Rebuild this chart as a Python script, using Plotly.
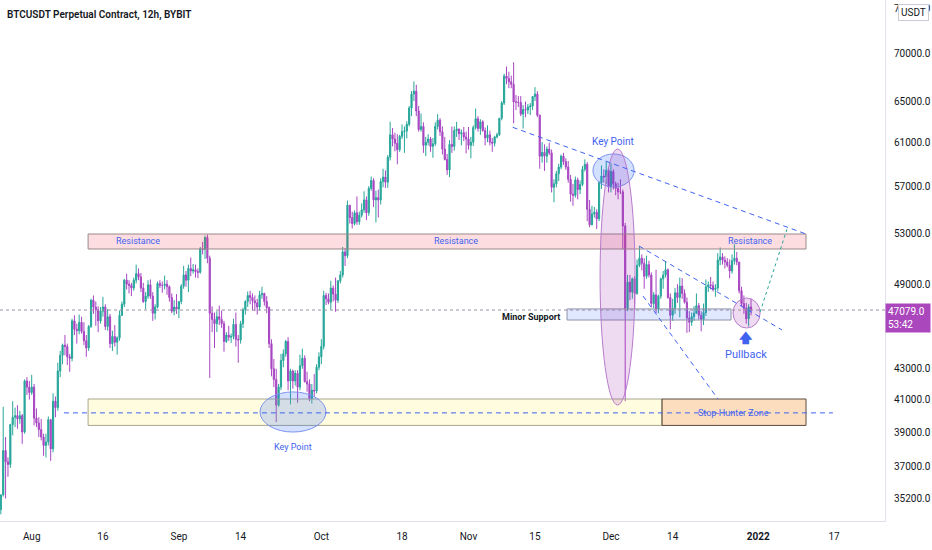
import math
import pandas as pd
import plotly.graph_objects as go

# -------------------------------------------------
# BTCUSDT PERP 12h candles
# first bar = 2021-07-25 12:00, two bars per day
# -------------------------------------------------
first_open = 34600

jul_high = [35400, 40550, 38700, 37500, 39500, 40900, 40500, 40650, 40300, 40100, 42300, 42450, 42200]
jul_low = [34350, 35300, 35200, 36400, 36900, 38800, 39300, 39200, 39500, 38300, 38900, 41300, 41000]
jul_close = [35400, 37900, 37250, 37100, 39450, 39900, 40000, 39800, 40000, 39000, 42200, 41800, 41450]

aug_high = [42600, 42000, 40450, 39900, 39800, 38900, 38900, 39950, 39800, 41400, 41200, 43400,
            44200, 44700, 45300, 44700, 44000, 46450, 46700, 46100, 46750, 46600, 46200, 45300,
            46000, 47900, 48150, 47700, 47350, 47300, 48050, 47500, 47150, 46800, 45600, 46000,
            45200, 47050, 47700, 49400, 49800, 49300, 49100, 49500, 50500, 50200, 49850, 49100,
            48400, 49300, 49350, 48400, 47500, 49200, 49300, 49200, 49650, 49300, 48900, 48300,
            47800, 48250]
aug_low = [41300, 39400, 39300, 38700, 38500, 37600, 37500, 38200, 37300, 37800, 39900, 40300,
           42450, 43300, 43900, 43250, 42800, 43500, 45300, 44700, 45350, 45400, 44600, 43800,
           44200, 45800, 46800, 45950, 45500, 46100, 46600, 45650, 45600, 44400, 44200, 44500,
           43950, 44900, 46650, 47300, 48600, 48300, 48100, 48500, 49050, 49300, 48400, 47600,
           47150, 47900, 47900, 46300, 46400, 47200, 48700, 48350, 48600, 48200, 47700, 46850,
           46700, 46800]
aug_close = [41800, 39850, 39550, 39150, 38700, 38200, 38400, 39750, 38000, 40900, 40500, 42850,
             43900, 44600, 44500, 43800, 43700, 46300, 45700, 45600, 46200, 45550, 44900, 44400,
             45900, 47800, 47300, 47100, 46300, 47000, 47300, 45900, 46600, 44700, 45200, 44800,
             45100, 46700, 47500, 49300, 49000, 48900, 48700, 49300, 49800, 49550, 48700, 47700,
             48100, 48950, 48100, 46850, 47300, 49050, 48900, 48900, 49000, 48800, 48000, 47000,
             47300, 47150]

sep_high = [47700, 49000, 50400, 50000, 50500, 51050, 50550, 50500, 50200, 51900, 52300, 52800,
            52900, 51200, 47350, 46900, 47000, 47400, 47050, 46300, 45500, 45950, 45400, 46450,
            46900, 45300, 46300, 47250, 47800, 48450, 48500, 48300, 48150, 47900, 48500, 48800,
            48350, 48100, 47350, 45000, 43650, 43000, 42000, 44000, 44300, 44950, 45150, 43000,
            42950, 42900, 42900, 43950, 44350, 43900, 42800, 42300, 42000, 42650, 43300, 44100]
sep_low = [46500, 47500, 48650, 48800, 48400, 49600, 49800, 49500, 49450, 49800, 51300, 50950,
           50600, 42400, 45500, 44400, 45500, 46000, 45800, 44150, 44750, 44900, 44750, 45000,
           44500, 43400, 44700, 45800, 46750, 47300, 47500, 47050, 47000, 46750, 47050, 47900,
           47400, 46850, 44400, 42500, 41800, 39600, 40550, 41600, 43100, 43800, 41600, 40700,
           41700, 41900, 40800, 41600, 43000, 42100, 41500, 40900, 40750, 41200, 41400, 42900]
sep_close = [47700, 48850, 49700, 49300, 50200, 50000, 50100, 49950, 49900, 51750, 51700, 52650,
             51000, 46850, 46400, 46100, 46600, 46400, 46100, 44850, 45300, 45150, 45200, 46050,
             45000, 44950, 46100, 47100, 47700, 48150, 48000, 47750, 47600, 47300, 48200, 48300,
             47700, 47250, 44700, 43000, 42300, 40650, 41800, 43550, 44000, 44850, 42200, 42850,
             42200, 42700, 41800, 43200, 43700, 42150, 42000, 41050, 41600, 41550, 43100, 43800]

oct_high = [45000, 48500, 48350, 48300, 49250, 48900, 49500, 49300, 50000, 51900, 51800, 55750,
            55350, 54800, 54900, 56100, 54800, 55500, 56550, 56100, 57000, 57850, 57700, 56600,
            56700, 57700, 58550, 58400, 59800, 62950, 62350, 61900, 61750, 61700, 62700, 62500,
            63000, 64500, 66000, 67000, 66650, 64500, 63750, 62900, 61500, 61750, 61500, 61400,
            62900, 63700, 63300, 62500, 61500, 59900, 61200, 62500, 62500, 62950, 62300, 62200,
            62450, 62000]
oct_low = [43300, 44300, 47450, 47500, 47100, 47700, 46950, 47600, 49050, 49500, 50400, 51000,
           53800, 53400, 53650, 53700, 53700, 54300, 54700, 54100, 54450, 56600, 55200, 53900,
           54300, 55400, 56900, 56850, 56850, 59300, 60600, 60150, 58950, 60100, 61300, 60000,
           61350, 62500, 63500, 65000, 63500, 62000, 62000, 60000, 59700, 60700, 60100, 59550,
           60650, 62200, 61600, 59850, 59300, 58000, 57800, 60000, 60200, 61500, 61200, 60700,
           61100, 59950]
oct_close = [44500, 48150, 47900, 47650, 48700, 48250, 47800, 49250, 49700, 51500, 51200, 55350,
             54300, 53800, 54700, 53950, 54500, 54950, 55800, 54700, 56800, 57500, 55800, 56000,
             55800, 57400, 57800, 57350, 59600, 61700, 61300, 60900, 60300, 61550, 62000, 62050,
             62700, 64300, 65700, 66000, 64000, 62200, 62500, 60700, 61000, 61300, 60600, 60850,
             62500, 63100, 62000, 60350, 59400, 58450, 60800, 60600, 62100, 62250, 61800, 61900,
             61500, 61300]

nov_high = [62450, 61500, 62600, 64250, 63500, 63200, 63100, 62400, 62600, 62100, 61400, 61600,
            61900, 63300, 65000, 67800, 68550, 68000, 67600, 69000, 65600, 65500, 65500, 64600,
            64950, 64700, 64800, 65500, 66400, 66000, 63650, 61000, 60800, 60600, 60950, 60300,
            57600, 58350, 59000, 59850, 60000, 59500, 59250, 58000, 57200, 57850, 57750, 57500,
            58800, 59400, 59150, 55800, 55300, 55200, 55000, 57450, 58850, 58500, 59200, 58600]
nov_low = [60300, 59500, 60650, 62200, 62000, 61700, 62000, 60700, 61000, 60700, 60100, 60600,
           61350, 61600, 63100, 64600, 66700, 66300, 66300, 62800, 64100, 64400, 63500, 62300,
           63400, 63700, 63600, 64100, 65000, 63400, 58550, 59100, 58350, 59100, 59800, 56450,
           55600, 56900, 57450, 58500, 58900, 58450, 57300, 55650, 55300, 56000, 55850, 56300,
           57000, 58300, 54000, 53500, 53650, 54300, 53350, 54000, 56750, 57300, 57200, 56450]
nov_close = [60700, 61000, 62400, 63250, 62300, 62950, 62100, 61400, 61700, 61000, 60900, 61500,
             61700, 63300, 64800, 67550, 67300, 66950, 66700, 64900, 64900, 64850, 63700, 64150,
             64100, 64400, 64500, 65450, 65700, 63600, 59700, 60050, 59700, 60350, 60000, 56900,
             57200, 58100, 58700, 59700, 59200, 58700, 57600, 56300, 56200, 57550, 56700, 57150,
             58500, 58950, 55000, 53700, 54600, 54750, 54200, 57300, 57900, 57800, 58400, 56950]

dec_high = [59050, 58500, 57400, 57300, 57600, 56700, 53850, 49700, 49700, 49500, 49600, 50900,
            51950, 51300, 51000, 51200, 50800, 49900, 48400, 50100, 48200, 49500, 50000, 50750,
            50200, 48300, 47900, 48700, 49000, 49500, 49450, 48600, 48000, 47000, 46900, 47350,
            48300, 47600, 47000, 47550, 49350, 49200, 49550, 49200, 49000, 51400, 51850, 51400,
            51150, 51000, 50900, 51300, 52100, 51500, 50700, 48800, 48150, 47600, 47500, 47900]
dec_low = [56450, 56700, 56200, 55850, 56300, 51700, 40900, 47000, 47800, 47900, 47100, 48200,
           50300, 50050, 48650, 49400, 49500, 47300, 47200, 46850, 46850, 47900, 48650, 49500,
           47900, 45700, 46300, 46800, 47600, 46550, 47900, 47550, 45450, 45500, 45950, 46300,
           46800, 46400, 45550, 46000, 46650, 48400, 48600, 48450, 48050, 48500, 50450, 50500,
           50200, 50300, 49450, 49800, 50500, 50450, 48300, 47350, 46800, 46100, 45900, 46700]
dec_close = [58300, 57200, 56800, 56500, 56500, 53600, 47200, 49150, 48400, 49400, 48300, 50450,
             51000, 50600, 49600, 50500, 49700, 47550, 48200, 47150, 48100, 49400, 49700, 50100,
             48000, 46700, 47200, 48350, 48000, 48850, 48300, 47650, 46500, 46200, 46600, 46850,
             47400, 46700, 46400, 46900, 48800, 48950, 48900, 48600, 48700, 50850, 51100, 50850,
             50700, 50450, 50000, 50800, 51000, 50700, 48500, 47550, 47200, 46450, 47300, 47079]

highs = jul_high + aug_high + sep_high + oct_high + nov_high + dec_high
lows = jul_low + aug_low + sep_low + oct_low + nov_low + dec_low
closes = jul_close + aug_close + sep_close + oct_close + nov_close + dec_close
opens = [first_open] + closes[:-1]  # 24/7 market: each bar opens at previous close
times = pd.date_range("2021-07-25 12:00", periods=len(closes), freq="12h")

last_price = 47079.0
countdown = "53:42"

tick_prices = [35200, 37000, 39000, 41000, 43000, 49000, 53000, 57000, 61000, 65000, 70000, 75000]
tick_dates = ["2021-08-01", "2021-08-16", "2021-09-01", "2021-09-14", "2021-10-01", "2021-10-18",
              "2021-11-01", "2021-11-15", "2021-12-01", "2021-12-14", "2022-01-01", "2022-01-17"]
tick_names = ["Aug", "16", "Sep", "14", "Oct", "18", "Nov", "15", "Dec", "14", "<b>2022</b>", "17"]

UP = "#26a69a"
DOWN = "#a846c2"
BLUE = "#3f63f0"
FONT = "Roboto, sans-serif"


def ly(p):
    # annotations on a log axis want log10 values
    return math.log10(p)


fig = go.Figure()

fig.add_trace(go.Candlestick(
    x=times, open=opens, high=highs, low=lows, close=closes,
    increasing=dict(line=dict(color=UP, width=1), fillcolor=UP),
    decreasing=dict(line=dict(color=DOWN, width=1), fillcolor=DOWN),
    whiskerwidth=0,
    showlegend=False,
    hoverinfo="skip",
))

shapes = []

# --- zones ---
shapes.append(dict(type="rect", x0="2021-08-12 21:00", x1="2022-01-11 02:00", y0=51730, y1=52940,
                   fillcolor="rgba(242,54,69,0.17)", line=dict(color="#9a8a8a", width=1), layer="above"))
shapes.append(dict(type="rect", x0="2021-08-12 21:00", x1="2021-12-11 18:00", y0=39400, y1=41040,
                   fillcolor="rgba(255,235,59,0.16)", line=dict(color="#a8a690", width=1), layer="above"))
shapes.append(dict(type="rect", x0="2021-12-11 18:00", x1="2022-01-11 02:00", y0=39400, y1=41040,
                   fillcolor="rgba(245,124,0,0.25)", line=dict(color="#5a4a40", width=1), layer="above"))
shapes.append(dict(type="rect", x0="2021-11-21 18:00", x1="2021-12-26 07:00", y0=46360, y1=47160,
                   fillcolor="rgba(41,98,255,0.15)", line=dict(color="#8d92aa", width=1), layer="above"))

# --- ellipses ---
shapes.append(dict(type="circle", x0="2021-09-18 02:00", x1="2021-10-01 23:30", y0=39000, y1=41490,
                   fillcolor="rgba(41,98,255,0.2)", line=dict(color="#7b93f0", width=1), layer="above"))
shapes.append(dict(type="circle", x0="2021-11-27 05:00", x1="2021-12-05 21:00", y0=56920, y1=59900,
                   fillcolor="rgba(41,98,255,0.2)", line=dict(color="#7b93f0", width=1), layer="above"))
shapes.append(dict(type="circle", x0="2021-11-28 17:00", x1="2021-12-06 02:00", y0=40660, y1=60360,
                   fillcolor="rgba(156,39,176,0.17)", line=dict(color="#b87ccc", width=1), layer="above"))
shapes.append(dict(type="circle", x0="2021-12-26 17:00", x1="2022-01-01 10:00", y0=45790, y1=47960,
                   fillcolor="rgba(156,39,176,0.17)", line=dict(color="#b87ccc", width=1), layer="above"))

# --- lines ---
dash_blue = dict(color=BLUE, width=1, dash="5px,4px")
shapes.append(dict(type="line", x0="2021-08-07 19:00", x1="2022-01-16 18:00", y0=40170, y1=40170,
                   line=dash_blue, layer="above"))
shapes.append(dict(type="line", x0="2021-11-10 07:00", x1="2022-01-11 02:00", y0=62420, y1=52940,
                   line=dash_blue, layer="above"))
shapes.append(dict(type="line", x0="2021-12-06 22:00", x1="2022-01-06 01:00", y0=51970, y1=45650,
                   line=dash_blue, layer="above"))
shapes.append(dict(type="line", x0="2021-12-07 18:00", x1="2021-12-23 13:00", y0=48110, y1=41040,
                   line=dash_blue, layer="above"))
shapes.append(dict(type="line", x0="2022-01-01 10:00", x1="2022-01-07 02:00", y0=46940, y1=53350,
                   line=dict(color=UP, width=1, dash="dot"), layer="above"))

# last price line
shapes.append(dict(type="line", xref="paper", x0=0, x1=1, y0=last_price, y1=last_price,
                   line=dict(color="#9a8fa6", width=1, dash="dot"), layer="above"))

fig.update_layout(shapes=shapes)

# --- text labels ---
def label(x, price, text, size=9, color=BLUE):
    fig.add_annotation(x=x, y=ly(price), text=text, showarrow=False,
                       font=dict(family=FONT, size=size, color=color))

label("2021-08-23 10:00", 52370, "Resistance")
label("2021-10-29 09:00", 52370, "Resistance")
label("2021-12-30 07:00", 52370, "Resistance")
label("2021-09-25 01:00", 38110, "Key Point")
label("2021-12-01 10:00", 61020, "Key Point", size=10)
label("2021-11-14 04:00", 46580, "<b>Minor Support</b>", color="#131722")
label("2021-12-26 17:00", 40170, "Stop-Hunter Zone")
label("2021-12-29 13:00", 45160, "<b>🡅</b>", size=13)
label("2021-12-29 13:00", 43990, "Pullback", size=11)

# chart title
fig.add_annotation(xref="paper", yref="paper", x=0.006, y=0.972, xanchor="left", yanchor="middle",
                   text="BTCUSDT Perpetual Contract, 12h, BYBIT", showarrow=False,
                   font=dict(family=FONT, size=10, color="#131722", weight=600))

# currency badge
fig.add_annotation(xref="paper", yref="paper", x=1.0147, y=0.993, xanchor="left", yanchor="top",
                   text="USDT", showarrow=False, bgcolor="white", bordercolor="#c9ccd4",
                   borderwidth=1, borderpad=2, font=dict(family=FONT, size=10, color="#131722"))

# last price tag
fig.add_annotation(xref="paper", x=1.0, y=ly(last_price), xanchor="left", yanchor="top",
                   yshift=7, text=f"{last_price:.1f}<br>{countdown}", showarrow=False, align="left",
                   bgcolor="#ab47bc", borderpad=2, width=40,
                   font=dict(family=FONT, size=10, color="white"))

fig.update_layout(
    width=932, height=550,
    margin=dict(l=0, r=47, t=0, b=29),
    paper_bgcolor="white", plot_bgcolor="white",
    font=dict(family=FONT, size=10, color="#131722"),
    showlegend=False,
    xaxis=dict(
        type="date",
        range=["2021-07-25 07:45", "2022-01-27 17:15"],
        rangeslider=dict(visible=False),
        showgrid=False, zeroline=False,
        showline=True, linecolor="#e0e3eb",
        tickvals=tick_dates, ticktext=tick_names,
        ticks="", ticklabelstandoff=6,
    ),
    yaxis=dict(
        type="log", side="right",
        range=[math.log10(33997), math.log10(75966)],
        showgrid=False, zeroline=False,
        showline=True, linecolor="#e0e3eb",
        tickvals=tick_prices, ticktext=[f"{p:.1f}" for p in tick_prices],
        ticks="", ticklabelstandoff=6,
    ),
)

fig.write_html("out.html", config={"displayModeBar": False},
               post_script="document.body.style.margin='0';")
